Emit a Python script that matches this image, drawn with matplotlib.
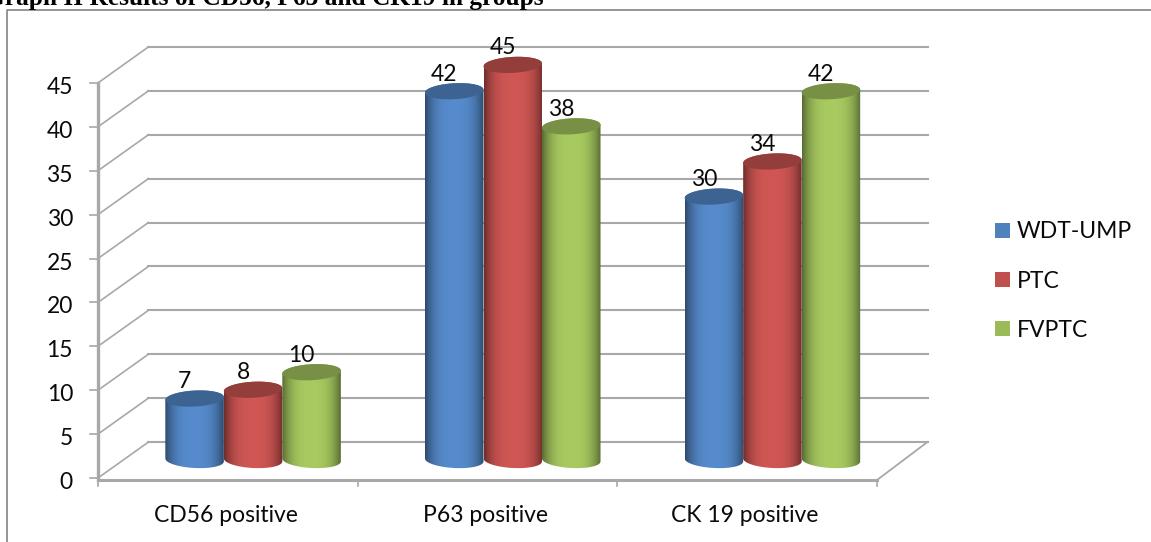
import numpy as np
import matplotlib
matplotlib.use("Agg")
import matplotlib.pyplot as plt
from matplotlib.patches import Patch, Polygon
from matplotlib.colors import to_rgb

# Chart data
categories = ["CD56 positive", "P63 positive", "CK 19 positive"]
series_names = ["WDT-UMP", "PTC", "FVPTC"]
wdt_ump = [7, 42, 30]
ptc = [8, 45, 34]
fvptc = [10, 38, 42]
y_ticks = [0, 5, 10, 15, 20, 25, 30, 35, 40, 45]

series_values = [wdt_ump, ptc, fvptc]
base_colors = ["#4f81bd", "#c0504d", "#9bbb59"]
GRID = "#a8a8a8"
INK = "#0a0a0a"
FONT = "Lato"
FS = 16.5
W, H = 1151, 542

# Front plane of the 3-D box: x in category units, y in value units
PX_X, PX_Y = 259.67, 8.78
LEFT, ZERO = 98.0, 478.0
DX, DY = 50.5 / PX_X, 36.0 / PX_Y   # depth offset of the back wall
BAR_W = 58.5 / PX_X

fig = plt.figure(figsize=(W / 100, H / 100), dpi=100)
ax = fig.add_axes([0, 0, 1, 1])
ax.axis("off")


def shade(color, n=64):
    """Horizontal cylinder shading: dark rims, lighter centre."""
    c = np.array(to_rgb(color))
    t = np.linspace(-1, 1, n)
    k = 1.08 - 0.50 * np.abs(t) ** 3
    return np.clip(c * k[:, None], 0, 1)[None, :, :]


def cylinder(cx, value, color, z):
    a = BAR_W / 2
    b = 8.0 / PX_Y
    tilt = 1.5 / PX_Y
    base = DY / 2
    t = np.linspace(0, np.pi, 40)
    top = base + value
    # Outline: lower rim of the base, then upper rim of the top
    xs = np.r_[cx - a * np.cos(t), cx + a * np.cos(t)]
    ys = np.r_[base - b * np.sin(t) + tilt * np.cos(t), top + b * np.sin(t) + tilt * np.cos(t)]
    outline = Polygon(np.c_[xs, ys], closed=True, transform=ax.transData, fc="none", ec="none")
    ax.add_patch(outline)
    im = ax.imshow(shade(color), extent=[cx - a, cx + a, base - 2 * b, top + 2 * b],
                   aspect="auto", origin="lower", zorder=z, interpolation="bilinear")
    im.set_clip_path(outline)
    tt = np.linspace(0, 2 * np.pi, 80)
    cap = Polygon(np.c_[cx + a * np.cos(tt), top + b * np.sin(tt) + tilt * np.cos(tt)],
                  closed=True, fc=np.array(to_rgb(color)) * 0.77, ec="none", zorder=z + 0.1)
    ax.add_patch(cap)
    ax.text(cx - 10 / PX_X, top + 17 / PX_Y, str(value), ha="center", va="center",
            fontsize=FS, family=FONT, color=INK, zorder=20)


n = len(categories)
# Back wall gridlines with their slanted side-wall segments
for v in y_ticks:
    ax.plot([DX, n + DX], [v + DY, v + DY], color=GRID, lw=1.5, zorder=1)
    ax.plot([0, DX], [v, v + DY], color=GRID, lw=1.2, zorder=1)
    ax.plot([-8 / PX_X, 0], [v, v], color=GRID, lw=1.2, zorder=1)
    ax.text(-25 / PX_X, v - 4.5 / PX_Y, str(v), ha="right", va="center", fontsize=FS, family=FONT, color=INK)

# Floor outline and axis lines
ax.plot([0, n], [-2 / PX_Y, -2 / PX_Y], color=GRID, lw=2.2, zorder=2)
ax.plot([n, n + DX], [-2 / PX_Y, DY], color=GRID, lw=1.3, zorder=2)
ax.plot([0, 0], [-2 / PX_Y, max(y_ticks)], color=GRID, lw=2.4, zorder=2)
for i in range(n + 1):
    ax.plot([i, i], [-2 / PX_Y, -8 / PX_Y], color=GRID, lw=1.2, zorder=2)

# Cylinders, drawn left to right so each overlaps its left neighbour
for i, name in enumerate(categories):
    ax.text(i + 0.5 - 2 / PX_X, -37 / PX_Y, name, ha="center", va="center",
            fontsize=FS, family=FONT, color=INK)
    for j, vals in enumerate(series_values):
        cx = i + 0.5 + DX / 2 + (j - 1) * BAR_W
        cylinder(cx, vals[i], base_colors[j], 5 + j + 3 * i)

ax.set_xlim(-LEFT / PX_X, (W - LEFT) / PX_X)
ax.set_ylim(-(H - ZERO) / PX_Y, ZERO / PX_Y)

# Legend on the right
handles = [Patch(fc=c, ec="none", label=s) for c, s in zip(base_colors, series_names)]
hl = 15 / (FS * 100 / 72)
ax.legend(handles=handles, loc="center left", bbox_to_anchor=(974 / W, 1 - 281 / H),
          bbox_transform=fig.transFigure, frameon=False, prop={"family": FONT, "size": FS},
          handlelength=hl, handleheight=hl, handletextpad=0.3, labelspacing=1.23,
          labelcolor=INK)

# Chart border, cut off by the figure edges
fig.add_artist(plt.Line2D([6.5 / W, 6.5 / W, 1], [0, 1 - 9.5 / H, 1 - 9.5 / H], color="#8c8c8c", lw=1.3))

# Caption above the chart
fig.text(544 / W, 1 - 5 / H, "Graph II Results of CD56, P63 and CK19 in groups", ha="right", va="baseline",
         fontsize=18.3, fontweight="bold", family="Liberation Serif", color="black")

fig.savefig("out.png", dpi=100)
